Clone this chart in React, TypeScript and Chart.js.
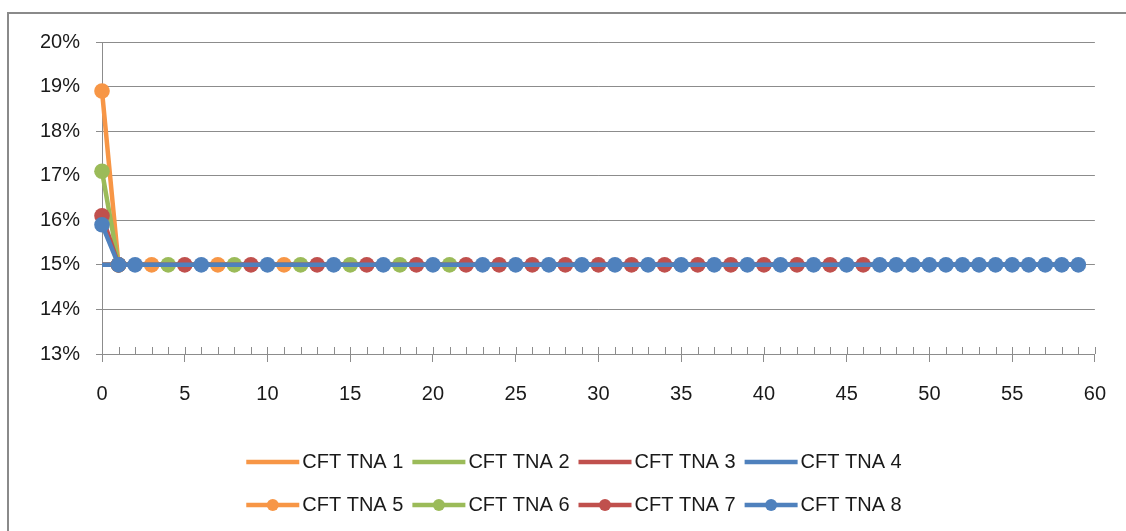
import React, { useEffect, useRef } from 'react';
import { Chart, registerables } from 'chart.js';

Chart.register(...registerables);

// ---- Data ----
const seriesNames = ['CFT TNA 1', 'CFT TNA 2', 'CFT TNA 3', 'CFT TNA 4', 'CFT TNA 5', 'CFT TNA 6', 'CFT TNA 7', 'CFT TNA 8'];
const seriesColors = ['#F79646', '#9BBB59', '#C0504D', '#4F81BD', '#F79646', '#9BBB59', '#C0504D', '#4F81BD'];
const seriesHasMarkers = [false, false, false, false, true, true, true, true];

const tna1X = [0, 59];
const tna1Y = [15, 15];
const tna2X = [0, 59];
const tna2Y = [15, 15];
const tna3X = [0, 59];
const tna3Y = [15, 15];
const tna4X = [0, 59];
const tna4Y = [15, 15];

const tna5X = [0, 1, 3, 7, 11];
const tna5Y = [18.9, 15, 15, 15, 15];

const tna6X = [0, 1, 4, 8, 12, 15, 18, 21];
const tna6Y = [17.1, 15, 15, 15, 15, 15, 15, 15];

const tna7X = [0, 1, 5, 9, 13, 16, 19, 22, 24, 26, 28, 30, 32, 34, 36, 38, 40, 42, 44, 46];
const tna7Y = [16.1, 15, 15, 15, 15, 15, 15, 15, 15, 15, 15, 15, 15, 15, 15, 15, 15, 15, 15, 15];

const tna8X = [0, 1, 2, 6, 10, 14, 17, 20, 23, 25, 27, 29, 31, 33, 35, 37, 39, 41, 43, 45, 47, 48, 49, 50, 51, 52, 53, 54, 55, 56, 57, 58, 59];
const tna8Y = [15.9, 15, 15, 15, 15, 15, 15, 15, 15, 15, 15, 15, 15, 15, 15, 15, 15, 15, 15, 15, 15, 15, 15, 15, 15, 15, 15, 15, 15, 15, 15, 15, 15];

const seriesX = [tna1X, tna2X, tna3X, tna4X, tna5X, tna6X, tna7X, tna8X];
const seriesY = [tna1Y, tna2Y, tna3Y, tna4Y, tna5Y, tna6Y, tna7Y, tna8Y];

const xAxisMin = 0;
const xAxisMax = 60;
const xAxisStep = 5;
const yAxisMin = 13;
const yAxisMax = 20;
const yAxisStep = 1;

const FONT = '"Liberation Sans", Arial, sans-serif';
const TEXT = '#1a1a1a';
const GRID = '#8c8c8c';

const minorTickPlugin = {
  id: 'minorTicks',
  afterDraw(chart: any) {
    const xs = chart.scales.x;
    const ctx = chart.ctx;
    const base = chart.chartArea.bottom;
    ctx.save();
    ctx.strokeStyle = GRID;
    ctx.lineWidth = 1;
    ctx.beginPath();
    for (let v = xAxisMin; v <= xAxisMax; v += 1) {
      const px = Math.round(xs.getPixelForValue(v)) + 0.5;
      ctx.moveTo(px, base - 7);
      ctx.lineTo(px, base);
    }
    ctx.stroke();
    ctx.restore();
  },
};

const legendPlugin = {
  id: 'excelLegend',
  afterDraw(chart: any) {
    const ctx = chart.ctx;
    ctx.save();
    ctx.font = `20px ${FONT}`;
    ctx.textBaseline = 'middle';
    ctx.textAlign = 'left';
    const rows = [[0, 1, 2, 3], [4, 5, 6, 7]];
    const rowY = [chart.chartArea.bottom + 108, chart.chartArea.bottom + 151];
    const sampleW = 53;
    const gapText = 3;
    const gapItem = 9;
    const centerX = 565;
    rows.forEach((row, r) => {
      const widths = row.map((i) => ctx.measureText(seriesNames[i]).width);
      const total = widths.reduce((a, b) => a + b, 0) + row.length * (sampleW + gapText) + (row.length - 1) * gapItem;
      let x = centerX - total / 2;
      const y = rowY[r];
      row.forEach((i, k) => {
        const color = seriesColors[i];
        ctx.strokeStyle = color;
        ctx.lineWidth = 4.5;
        ctx.lineCap = 'butt';
        ctx.beginPath();
        ctx.moveTo(x, y);
        ctx.lineTo(x + sampleW, y);
        ctx.stroke();
        if (seriesHasMarkers[i]) {
          ctx.fillStyle = color;
          ctx.beginPath();
          ctx.arc(x + sampleW / 2, y, 6, 0, Math.PI * 2);
          ctx.fill();
        }
        ctx.fillStyle = TEXT;
        ctx.fillText(seriesNames[i], x + sampleW + gapText, y);
        x += sampleW + gapText + widths[k] + gapItem;
      });
    });
    ctx.restore();
  },
};

export default function App() {
  const canvasRef = useRef<HTMLCanvasElement | null>(null);

  useEffect(() => {
    if (!canvasRef.current) return;
    const datasets = seriesNames.map((name, i) => ({
      label: name,
      data: seriesX[i].map((x, k) => ({ x, y: seriesY[i][k] })),
      showLine: true,
      borderColor: seriesColors[i],
      backgroundColor: seriesColors[i],
      borderWidth: 4.5,
      pointRadius: seriesHasMarkers[i] ? 7.8 : 0,
      pointBorderWidth: 0,
      pointBackgroundColor: seriesColors[i],
      pointHoverRadius: 0,
      tension: 0,
      clip: false as any,
      order: seriesNames.length - 1 - i,
    }));

    const chart = new Chart(canvasRef.current, {
      type: 'scatter',
      data: { datasets },
      plugins: [minorTickPlugin, legendPlugin],
      options: {
        animation: false,
        responsive: false,
        maintainAspectRatio: false,
        devicePixelRatio: 1,
        layout: { padding: { top: 26, right: 30, bottom: 117, left: 0 } },
        plugins: {
          legend: { display: false },
          tooltip: { enabled: false },
          title: { display: false },
        },
        scales: {
          x: {
            type: 'linear',
            min: xAxisMin,
            max: xAxisMax,
            ticks: {
              stepSize: xAxisStep,
              color: TEXT,
              font: { family: FONT, size: 20 },
              padding: 20,
              maxRotation: 0,
            },
            grid: {
              drawOnChartArea: false,
              drawTicks: true,
              tickLength: 8,
              color: GRID,
              lineWidth: 1,
            },
            border: { display: true, color: GRID, width: 1 },
            afterFit: (scale: any) => {
              scale.height = 60;
            },
          },
          y: {
            type: 'linear',
            min: yAxisMin,
            max: yAxisMax,
            ticks: {
              stepSize: yAxisStep,
              color: TEXT,
              font: { family: FONT, size: 20 },
              padding: 16,
              callback: (v: any) => `${v}%`,
            },
            grid: {
              drawOnChartArea: true,
              drawTicks: true,
              tickLength: 6,
              color: GRID,
              lineWidth: 1,
            },
            border: { display: true, color: GRID, width: 1 },
            afterFit: (scale: any) => {
              scale.width = 93;
            },
          },
        },
      },
    });
    return () => chart.destroy();
  }, []);

  return (
    <div
      style={{
        position: 'absolute',
        left: 7,
        top: 12,
        width: 1117,
        height: 517,
        borderLeft: '2px solid #8a8a8a',
        borderTop: '2px solid #8a8a8a',
        background: '#fff',
      }}
    >
      <canvas ref={canvasRef} width={1117} height={517} style={{ display: 'block' }} />
    </div>
  );
}
